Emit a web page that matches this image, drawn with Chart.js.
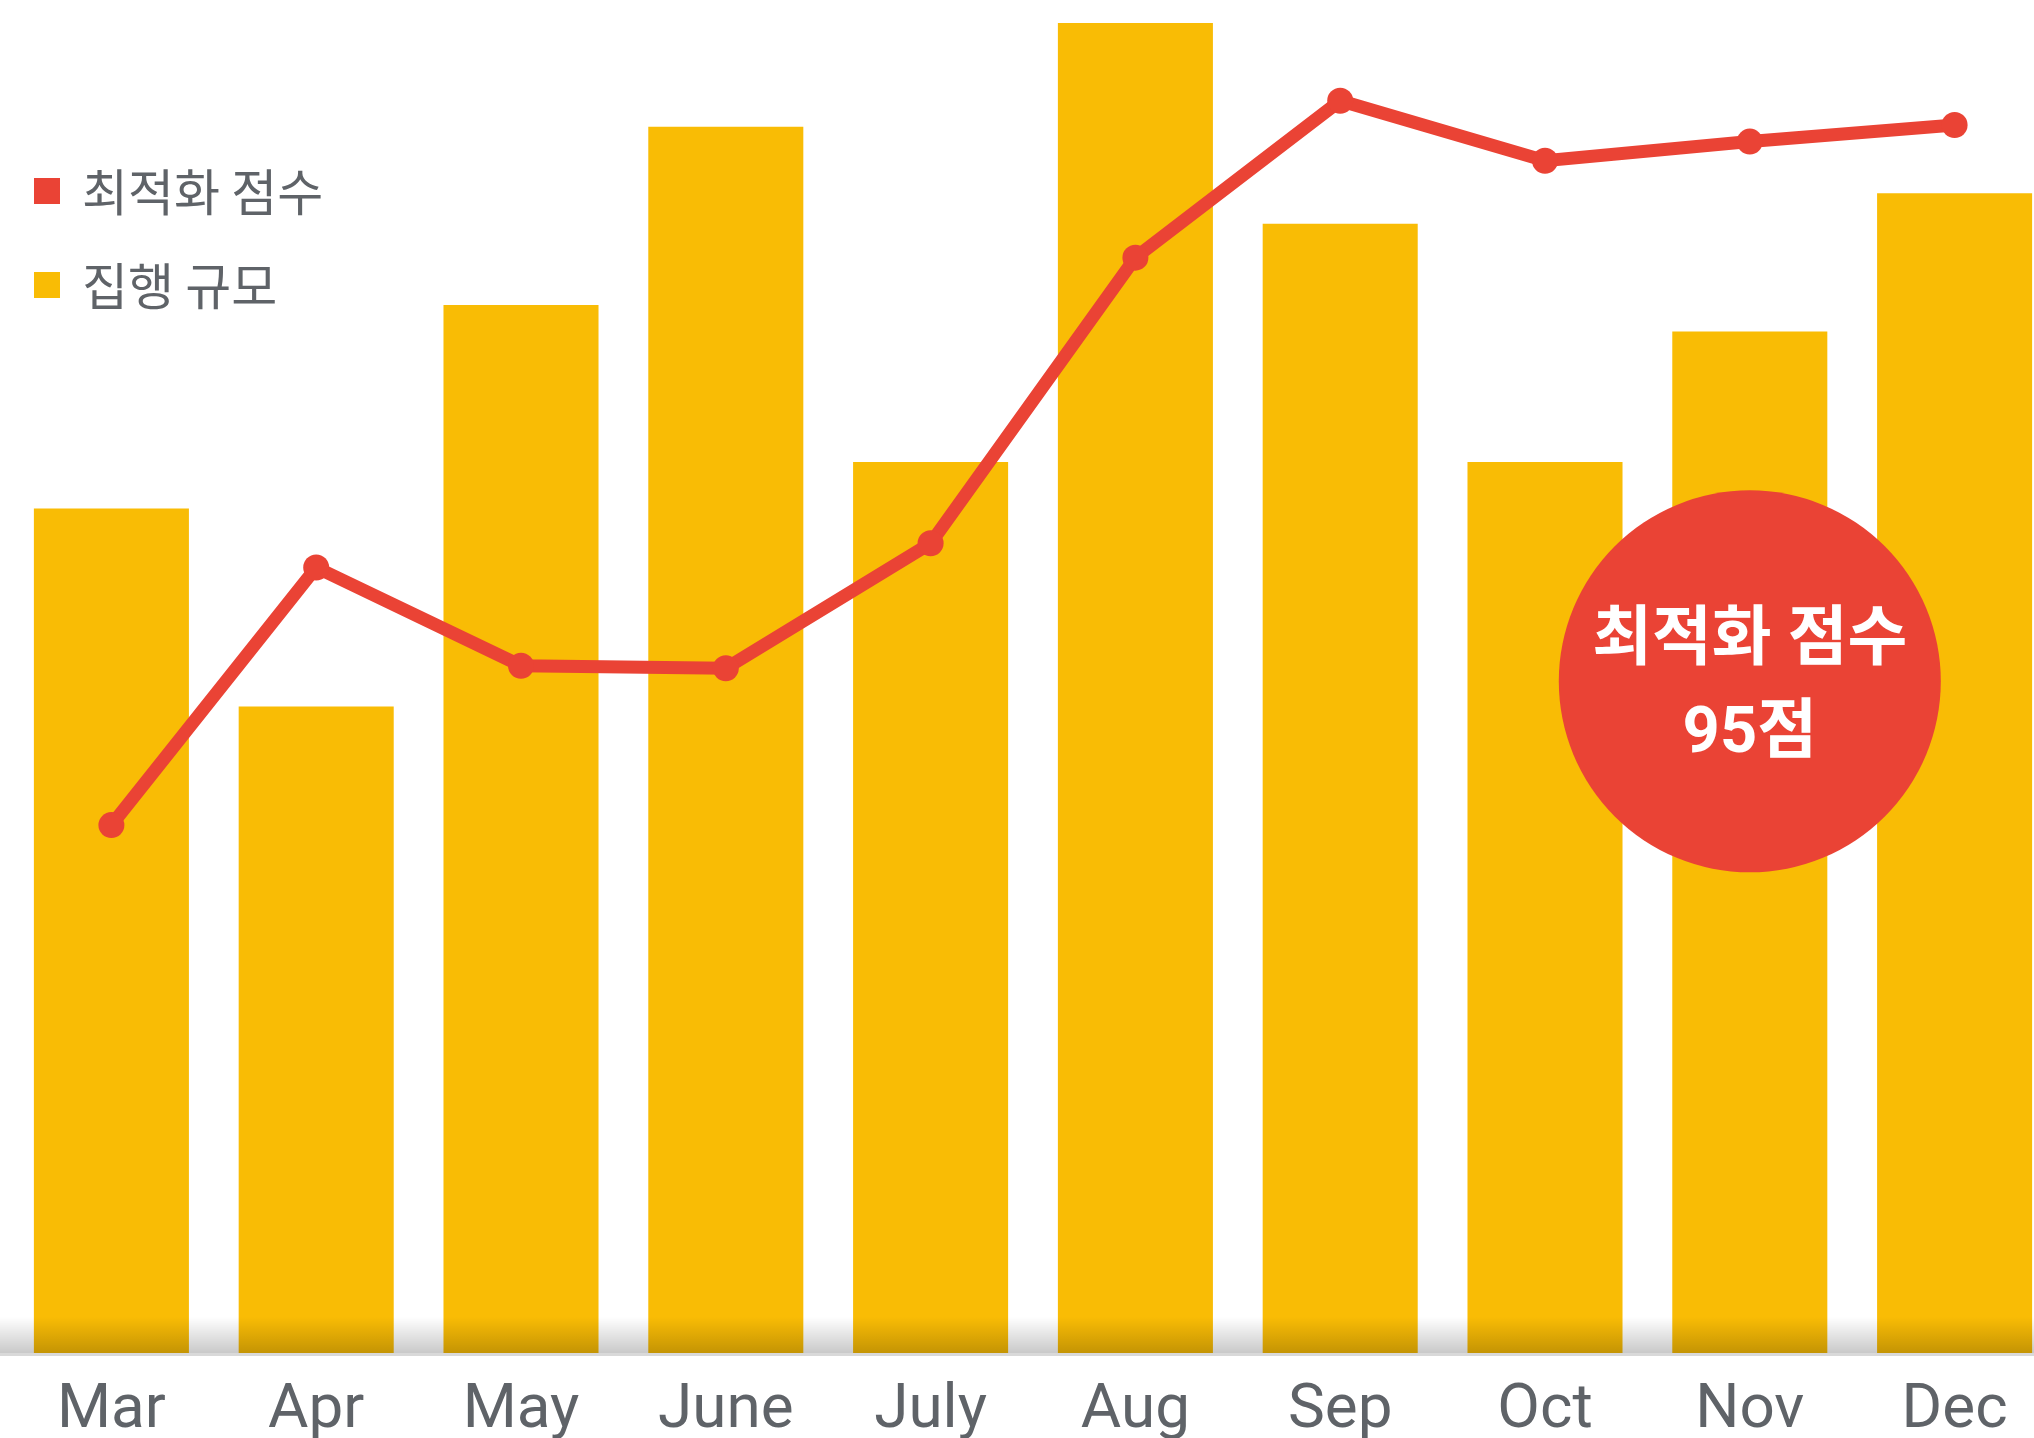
<!DOCTYPE html>
<html lang="ko">
<head>
  <meta charset="UTF-8">
  <title>최적화 점수 / 집행 규모</title>
  <script src="https://cdn.jsdelivr.net/npm/chart.js"></script>
  <style>
    html, body {
      margin: 0;
      padding: 0;
      background: #fff;
      overflow: hidden;
    }

    /* line points add 13px of side padding, so the box is nudged left */
    .chart-box {
      position: relative;
      left: -4px;
      width: 2074px;
      height: 1438px;
    }
  </style>
</head>
<body>
  <div class="chart-box">
    <canvas id="scoreChart"></canvas>
  </div>

  <script>
    const months = ['Mar', 'Apr', 'May', 'June', 'July', 'Aug', 'Sep', 'Oct', 'Nov', 'Dec'];
    const scores = [41.4, 61.6, 53.9, 53.7, 63.5, 85.9, 98.2, 93.5, 95, 96.3];
    const spend = [63.5, 48.6, 78.8, 92.2, 67.0, 100, 84.9, 67.0, 76.8, 87.2];

    const calloutIndex = 8;      // Nov
    const calloutLevel = 50.5;   // on the spend axis

    const RED = '#ea4335';
    const YELLOW = '#f9bc05';
    const GREY = '#5f6368';

    // soft shadow along the baseline + the axis line
    const baseShadow = {
      id: 'baseShadow',
      afterDatasetsDraw(chart) {
        const { ctx, chartArea } = chart;
        const b = chartArea.bottom;
        ctx.save();
        const g = ctx.createLinearGradient(0, b - 36, 0, b);
        g.addColorStop(0, 'rgba(0,0,0,0)');
        g.addColorStop(1, 'rgba(0,0,0,0.21)');
        ctx.fillStyle = g;
        ctx.fillRect(0, b - 36, chart.width, 36);
        ctx.fillStyle = '#d9d9d9';
        ctx.fillRect(0, b, chart.width, 3);
        ctx.restore();
      }
    };

    // red circle with the score for one month
    const callout = {
      id: 'callout',
      afterDraw(chart) {
        const { ctx } = chart;
        const x = chart.scales.x.getPixelForValue(calloutIndex);
        const y = chart.scales.y.getPixelForValue(calloutLevel);
        ctx.save();
        ctx.fillStyle = RED;
        ctx.beginPath();
        ctx.arc(x, y, 191, 0, Math.PI * 2);
        ctx.fill();
        ctx.fillStyle = '#fff';
        ctx.textAlign = 'center';
        ctx.textBaseline = 'middle';
        ctx.font = "bold 65px Roboto, 'Noto Sans CJK KR', sans-serif";
        ctx.fillText(chart.data.datasets[0].label, x, y - 39);
        ctx.fillText(scores[calloutIndex] + '점', x, y + 54);
        ctx.restore();
      }
    };

    // legend drawn over the top-left of the plot
    const cornerLegend = {
      id: 'cornerLegend',
      afterDraw(chart) {
        const { ctx } = chart;
        ctx.save();
        ctx.font = "50px 'Noto Sans CJK KR', sans-serif";
        ctx.textBaseline = 'middle';
        chart.data.datasets.forEach((ds, i) => {
          const cy = 191 + i * 94;
          ctx.fillStyle = ds.legendColor;
          ctx.fillRect(38, cy - 13, 26, 26);
          ctx.fillStyle = GREY;
          ctx.fillText(ds.label, 86, cy + 1);
        });
        ctx.restore();
      }
    };

    Chart.defaults.font.family = "Roboto, 'Noto Sans CJK KR', sans-serif";

    new Chart(document.getElementById('scoreChart'), {
      data: {
        labels: months,
        datasets: [
          {
            type: 'line',
            label: '최적화 점수',
            data: scores,
            yAxisID: 'y2',
            borderColor: RED,
            backgroundColor: RED,
            legendColor: RED,
            borderWidth: 13,
            pointRadius: 13,
            pointBorderWidth: 0,
            pointBackgroundColor: RED,
            tension: 0
          },
          {
            type: 'bar',
            label: '집행 규모',
            data: spend,
            yAxisID: 'y',
            backgroundColor: YELLOW,
            legendColor: YELLOW,
            categoryPercentage: 1,
            barPercentage: 0.757
          }
        ]
      },
      options: {
        responsive: true,
        maintainAspectRatio: false,
        animation: false,
        layout: {
          padding: { left: 0, right: 0, top: 23, bottom: 0 }
        },
        scales: {
          x: {
            offset: true,
            grid: { display: false, drawTicks: false },
            border: { display: false },
            ticks: {
              color: GREY,
              padding: 21,
              font: { size: 62 }
            },
            afterFit(scale) {
              scale.height = 85;
            }
          },
          y: {
            display: false,
            min: 0,
            max: 100
          },
          y2: {
            display: false,
            min: 0,
            max: 104.3
          }
        },
        plugins: {
          legend: { display: false },
          tooltip: { enabled: false }
        }
      },
      plugins: [baseShadow, callout, cornerLegend]
    });
  </script>
</body>
</html>
